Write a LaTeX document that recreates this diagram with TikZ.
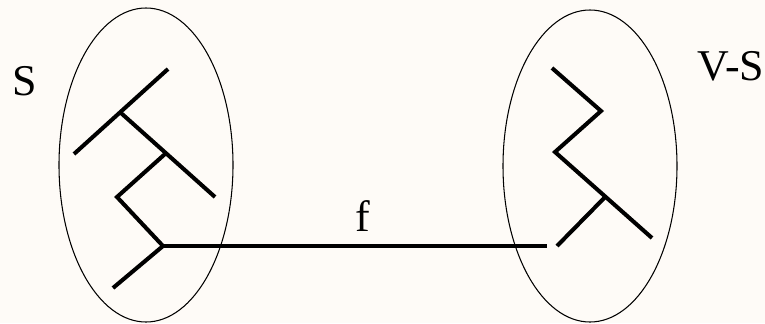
\documentclass[tikz,border=0pt]{standalone}
\usepackage{fontspec}
\setmainfont{Liberation Serif}
\usepackage{tikz}
\usetikzlibrary{positioning, calc}

\definecolor{paper}{RGB}{254,251,247}
\tikzset{
    branch/.style={line width=2.3pt},
    setline/.style={line width=0.6pt},
    setlabel/.style={font=\fontsize{25}{30}\selectfont, inner sep=0pt}
}

\begin{document}
\begin{tikzpicture}[every node/.style={outer sep=0pt}]
    % Background
    \fill[paper] (0,0) rectangle (15.3,-6.46);
    \useasboundingbox (0,0) rectangle (15.3,-6.46);

    % Sets
    \draw[setline] (2.92,-3.30) ellipse (1.74 and 3.14);
    \draw[setline] (11.80,-3.32) ellipse (1.74 and 3.12);

    % Tree in S
    \coordinate (a1) at (3.36,-1.38);
    \coordinate (a2) at (2.42,-2.26);
    \coordinate (a3) at (1.48,-3.08);
    \coordinate (a4) at (3.30,-3.08);
    \coordinate (a5) at (4.30,-3.94);
    \coordinate (a6) at (2.34,-3.94);
    \coordinate (a7) at (3.26,-4.92);
    \coordinate (a8) at (2.26,-5.76);
    \draw[branch] (a1) -- (a3);
    \draw[branch] (a2) -- (a5);
    \draw[branch] (a4) -- (a6) -- (a7) -- (a8);

    % Tree in V-S
    \coordinate (b1) at (11.04,-1.36);
    \coordinate (b2) at (12.02,-2.22);
    \coordinate (b3) at (11.10,-3.04);
    \coordinate (b4) at (13.04,-4.76);
    \coordinate (b5) at ($(b3)!0.52!(b4)$);
    \coordinate (b6) at (11.14,-4.92);
    \draw[branch] (b1) -- (b2) -- (b3) -- (b4);
    \draw[branch] (b5) -- (b6);

    % Crossing edge
    \coordinate (fend) at (10.94,-4.92);
    \draw[branch] (a7) -- (fend);
    \node[setlabel, anchor=base] (f) at (7.26,-4.62) {f};

    % Labels
    \node[setlabel] (S) at (0.50,-1.62) {S};
    \node[setlabel] (VS) at (14.62,-1.32) {V-S};
\end{tikzpicture}
\end{document}
